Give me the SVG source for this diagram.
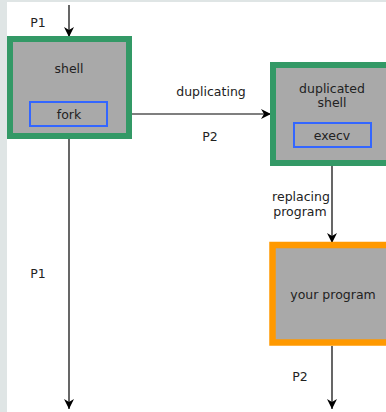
<svg xmlns="http://www.w3.org/2000/svg" width="386" height="412" viewBox="0 0 386 412">
<style>
text{font-family:"DejaVu Sans",sans-serif;font-size:12.5px;fill:#222;text-anchor:middle}
.proc{fill:#a9a9a9;stroke:#339966;stroke-width:6}
.prog{fill:#a9a9a9;stroke:#ff9900;stroke-width:6.5}
.sub{fill:#a9a9a9;stroke:#3366ff;stroke-width:2}
.line{stroke:#000;stroke-width:1.2;fill:none}
</style>
<defs>
<marker id="ah" viewBox="0 0 10 10" refX="10" refY="5" markerWidth="10" markerHeight="10" markerUnits="userSpaceOnUse" orient="auto">
<path d="M0,0 L10,5 L0,10 L3,5 Z" fill="#000"/>
</marker>
</defs>
<rect x="0" y="0" width="386" height="412" fill="#dfe5e5"/>
<rect x="7" y="2" width="379" height="410" fill="#fff"/>
<g id="connectors">
<line class="line" x1="69" y1="5" x2="69" y2="37" marker-end="url(#ah)"/>
<line class="line" x1="107" y1="114" x2="271" y2="114" marker-end="url(#ah)"/>
<line class="line" x1="69" y1="139" x2="69" y2="409" marker-end="url(#ah)"/>
<line class="line" x1="332" y1="166" x2="332" y2="243" marker-end="url(#ah)"/>
<line class="line" x1="332" y1="346" x2="332" y2="409" marker-end="url(#ah)"/>
<text x="38" y="27">P1</text>
<text x="211" y="96">duplicating</text>
<text x="210" y="141">P2</text>
<text x="38" y="278">P1</text>
<text x="301" y="201">replacing</text>
<text x="300" y="216">program</text>
<text x="300" y="381">P2</text>
</g>
<g id="shell">
<rect class="proc" x="10" y="39" width="119" height="97"/>
<text x="69" y="73">shell</text>
</g>
<g id="fork">
<rect class="sub" x="30" y="102" width="77" height="24"/>
<text x="69" y="119">fork</text>
</g>
<g id="duplicated-shell">
<rect class="proc" x="273" y="65" width="125" height="98"/>
<text x="332" y="93">duplicated</text>
<text x="332" y="107">shell</text>
</g>
<g id="execv">
<rect class="sub" x="294" y="123" width="77" height="24"/>
<text x="332" y="140">execv</text>
</g>
<g id="your-program">
<rect class="prog" x="272.5" y="245" width="125" height="97.5"/>
<text x="333" y="299">your program</text>
</g>
</svg>
